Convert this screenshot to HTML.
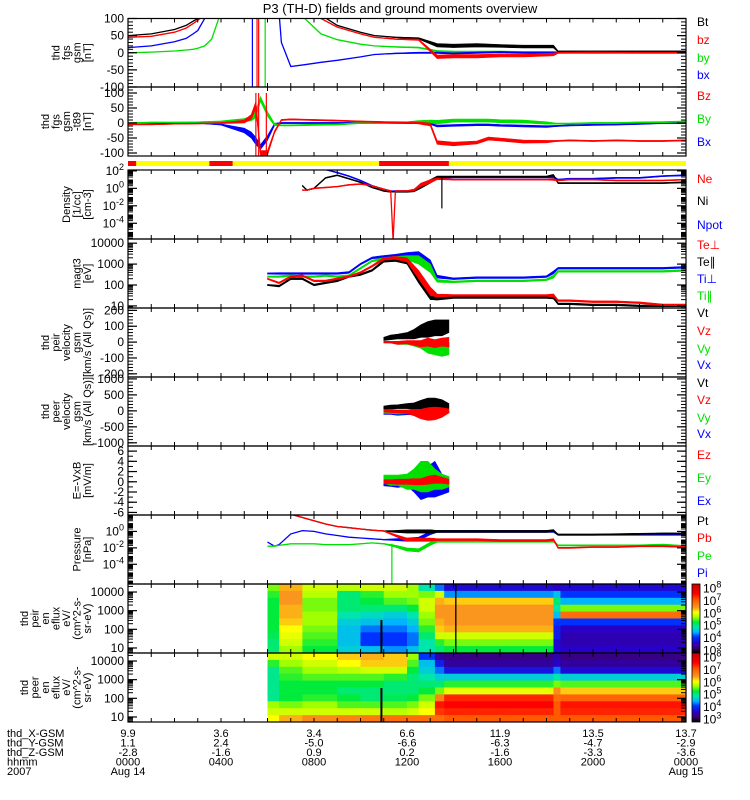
<!DOCTYPE html>
<html><head><meta charset="utf-8"><style>
html,body{margin:0;padding:0;background:#fff;}
svg{display:block;font-family:"Liberation Sans",sans-serif;}
</style></head><body>
<svg id="chart" width="750" height="800" viewBox="0 0 750 800"></svg>
<script>
// ---------- DATA ----------
const hourTicks = [0,4,8,12,16,20,24];
const hhmmLabels = ["0000","0400","0800","1200","1600","2000","0000"];
const xGsm = ["9.9","3.6","3.4","6.6","11.9","13.5","13.7"];
const yGsm = ["1.1","2.4","-5.0","-6.6","-6.3","-4.7","-2.9"];
const zGsm = ["-2.8","-1.6","0.9","0.2","-1.6","-3.3","-3.6"];

// Panel 1: fgs gsm
const t1 = [0,1,2,2.5,2.8,3.0,3.3,3.6,3.9,4.5,5.0,6.0,6.4,6.6,7.0,7.6,8.3,9,10,10.6,11.5,12.5,13.3,14,15,16,17,18.3,18.5,20,22,24];
const fgsBt = [50,55,68,80,92,100,120,150,180,250,300,300,260,220,180,140,110,80,60,50,45,42,22,20,22,20,18,18,4,4,4,4];
const fgsBz = [45,48,60,72,85,95,110,140,170,240,290,290,250,210,170,130,100,75,55,45,40,38,-12,-10,-10,-8,-8,-5,0,1,0,0];
const fgsBy = [0,2,5,8,10,13,20,40,100,200,300,300,300,250,200,100,55,38,25,20,17,15,5,3,3,3,2,2,2,2,2,2];
const fgsBx = [15,20,32,42,55,65,100,150,200,300,300,300,200,30,-40,-35,-28,-22,-12,-5,-2,0,0,-2,0,2,0,0,0,0,0,0];
const fgsAmpBt = [0,0,0,0,0,0,0,0,0,0,0,0,0,0,0,0,0,0,0,0,1,2,5,5,5,4,4,4,1.5,1.5,1.5,1.5];
const fgsAmpBz = [0,0,0,0,0,0,0,0,0,0,0,0,0,0,0,0,0,0,0,0,1,2,5,5,5,4,4,4,1.5,1.5,1.5,1.5];
const fgsAmpBy = [0,0,0,0,0,0,0,0,0,0,0,0,0,0,0,0,0,0,0,0,1,1.5,2,2,2,2,2,2,1.5,1.5,1.5,1.5];
const fgsAmpBx = [0,0,0,0,0,0,0,0,0,0,0,0,0,0,0,0,0,0,0,0,1,1.5,2,2,2,2,2,2,1.5,1.5,1.5,1.5];

// Panel 2: fgs gsm - t89
const t2 = [0,1,2,3,4,4.5,5,5.3,5.5,5.7,6,6.3,6.6,7,8,9,10,11,12,12.5,13,13.3,14,15,15.5,16,17,18,18.4,19,20,21,22,23,24];
const t89Bz = [-5,-5,-3,-2,0,2,5,20,60,-100,-100,-30,10,12,10,8,5,3,2,0,-5,-65,-70,-65,-52,-55,-62,-62,-60,-58,-60,-58,-60,-60,-58];
const t89By = [0,2,2,3,5,8,10,15,30,80,30,-5,-8,-8,-6,-5,0,0,2,5,5,3,8,8,8,6,5,0,-2,-2,0,0,2,3,5];
const t89Bx = [0,0,0,0,-5,-15,-25,-40,-60,-80,-50,-5,0,0,0,0,0,0,0,0,-2,-10,-8,-6,-6,-8,-10,-12,-10,-8,-6,-5,-3,0,0];
const t89AmpBz = [1,1,1,1,2,3,5,8,12,8,8,4,2,2,2,2,2,2,2,3,5,6,6,5,5,5,5,4,2,2,2,2,2,2,2];
const t89AmpBy = [1,1,1,1,2,3,5,8,12,8,8,4,2,2,2,2,2,2,2,3,5,6,5,5,5,5,5,4,2,2,2,2,2,2,2];
const t89AmpBx = [1,1,1,1,2,5,8,10,12,8,8,4,2,2,2,2,2,2,2,2,3,3,3,3,3,3,3,3,2,2,2,2,2,2,2];

// Panel 3: density (log10 1/cc)
const t3 = [7.5,7.7,8,8.5,9,9.5,10,10.5,11,11.3,11.4,11.5,12,12.3,12.6,13,13.3,14,15,16,17,18,18.3,18.5,19,20,21,22,23,24];
const denNi = [0.3,-0.2,0,1.2,1.5,1.1,0.7,0.1,-0.3,-0.4,-0.4,-0.4,-0.4,-0.3,0.2,0.8,1.3,1.35,1.35,1.35,1.35,1.35,1.5,0.6,0.6,0.6,0.6,0.6,0.6,0.7];
const denNe = [-0.2,-0.2,0,0.1,0.2,0.4,0.5,0.3,-0.1,-0.3,-6,-0.3,-0.3,-0.2,0.4,0.8,1.1,1.0,1.0,1.0,1.0,1.0,1.0,0.9,1.0,1.0,0.9,0.9,0.9,1.0];
const denNpot = [null,null,2.2,2.15,1.8,1.4,0.9,0.3,-0.1,-0.3,-0.3,-0.3,-0.3,-0.2,0.3,0.8,1.25,1.25,1.25,1.25,1.25,1.25,1.3,1.0,1.1,1.1,1.2,1.2,1.4,1.5];
const denAmp = [0.05,0.05,0.05,0.05,0.05,0.05,0.05,0.05,0.05,0.05,0,0.05,0.05,0.1,0.2,0.2,0.1,0.06,0.06,0.06,0.06,0.06,0.1,0.06,0.06,0.06,0.06,0.06,0.06,0.06];

// Panel 4: temperature (log10 eV)
const t4 = [6,6.5,7,7.5,8,8.5,9,9.5,10,10.5,11,11.5,12,12.5,13,13.3,14,15,16,17,18,18.3,18.5,19,20,21,22,23,24];
const tempTiPerp = [2.55,2.55,2.55,2.55,2.55,2.55,2.55,2.6,3.0,3.3,3.35,3.4,3.45,3.4,3.0,2.4,2.3,2.35,2.35,2.35,2.4,2.6,2.8,2.8,2.8,2.8,2.8,2.8,2.85];
const tempTiPar = [2.4,2.4,2.45,2.4,2.4,2.45,2.4,2.45,2.8,3.15,3.25,3.3,3.3,3.2,2.8,2.2,2.15,2.2,2.2,2.2,2.25,2.4,2.65,2.65,2.65,2.65,2.65,2.65,2.7];
const tempTePerp = [2.3,2.1,2.4,2.45,2.2,2.2,2.3,2.4,2.6,2.9,3.25,3.3,3.2,2.5,1.7,1.5,1.5,1.5,1.5,1.5,1.5,1.5,1.25,1.25,1.2,1.2,1.15,1.05,1.05];
const tempTePar = [2.0,1.95,2.3,2.3,2.0,2.1,2.2,2.4,2.5,2.7,3.15,3.2,3.1,2.3,1.5,1.35,1.4,1.4,1.4,1.4,1.4,1.4,1.1,1.1,1.05,1.05,1.0,1.0,1.0];
const tempAmp = [0.03,0.04,0.04,0.04,0.04,0.04,0.04,0.04,0.04,0.04,0.06,0.07,0.1,0.2,0.2,0.07,0.04,0.04,0.04,0.04,0.04,0.07,0.04,0.04,0.04,0.04,0.04,0.04,0.04];

// Panels 5-7: velocities and E field
const t5 = [11,11.3,11.6,12,12.3,12.6,12.9,13.2,13.5,13.8];
const peirVt = [20,30,35,40,50,70,80,90,90,100];
const peirVtAmp = [10,15,15,20,30,40,50,50,50,40];
const peirVz = [0,0,-5,0,-5,-10,0,-10,0,0];
const peirVzAmp = [5,5,10,10,15,20,25,25,25,30];
const peirVy = [0,0,-5,-5,-10,-20,-40,-50,-60,-50];
const peirVyAmp = [5,5,10,10,15,20,30,30,30,30];
const peirVx = [0,0,0,0,0,-5,-10,-15,-20,-20];
const peirVxAmp = [3,5,5,5,5,10,15,15,15,15];
const peerVt = [100,120,130,150,150,180,200,200,200,150];
const peerVtAmp = [50,60,60,80,100,150,200,200,150,80];
const peerVz = [0,0,-20,-30,-50,-100,-100,-80,-50,0];
const peerVzAmp = [40,50,50,60,100,150,200,200,150,60];
const peerVy = [-50,-50,-60,-50,-50,-50,-50,-50,-50,-30];
const peerVyAmp = [30,30,40,40,40,50,50,50,50,40];
const peerVx = [-80,-80,-100,-80,-80,-80,-100,-80,-60,-40];
const peerVxAmp = [30,30,40,40,40,60,60,60,40,30];
const efEz = [0,0,0,0,0,0,0.3,0.5,0.3,0];
const efEzAmp = [0.4,0.4,0.5,0.5,0.6,0.6,0.8,0.8,0.6,0.5];
const efEy = [0.5,0.3,0.3,0,0.5,1,1,0.5,0,0];
const efEyAmp = [0.8,1,1,1.5,2,3,3,2,1.5,1];
const efEx = [-0.3,-0.3,-0.5,0,-0.5,-1,0,0.5,-0.5,-0.5];
const efExAmp = [0.5,0.6,0.6,0.8,1.5,2.5,3,3.5,2,1.5];

// Panel 8: pressure (log10 nPa)
const t8 = [6,6.3,6.5,7,7.5,8,8.5,9,9.5,10,10.5,11,11.5,12,12.5,13,13.3,14,15,16,17,18,18.3,18.5,19,20,21,22,23,24];
const presPt = [null,null,null,2.1,1.7,1.3,0.9,0.6,0.45,0.3,0.15,0.05,0.0,0.0,0.0,0.0,0.0,0.0,0.0,0.0,0.0,0.0,0.1,-0.4,-0.4,-0.4,-0.35,-0.3,-0.25,-0.25];
const presPb = [null,null,null,2.1,1.7,1.3,0.9,0.6,0.45,0.3,0.15,0.05,-0.5,-1.0,-1.0,-1.0,-1.0,-1.0,-1.0,-1.1,-1.1,-1.1,-1.0,-2.0,-2.0,-1.9,-1.9,-1.8,-1.8,-1.9];
const presPe = [-1.8,-1.8,-1.7,-1.5,-1.5,-1.5,-1.6,-1.6,-1.6,-1.5,-1.4,-1.5,-1.8,-2.2,-2.3,-1.5,-1.2,-1.2,-1.2,-1.2,-1.2,-1.2,-1.2,-1.7,-1.7,-1.7,-1.7,-1.7,-1.6,-1.8];
const presPi = [-1.3,-1.8,-1.6,-0.3,0.1,0.0,-0.3,-0.5,-0.7,-0.8,-0.9,-1.0,-1.0,-1.0,-0.9,-0.2,0.0,0.0,0.0,0.0,0.0,0.0,0.0,-0.4,-0.4,-0.4,-0.4,-0.4,-0.4,-0.4];
const presAmp = [0,0,0,0,0,0,0,0,0,0,0,0.04,0.12,0.2,0.2,0.2,0.12,0.12,0.12,0.12,0.12,0.12,0.12,0.07,0.07,0.07,0.07,0.07,0.07,0.07];

// Spikes: panel, time, value-from, value-to, color
const spikePanel = [0,0,0,0,1,1,1,2,7];
const spikeTime = [5.35,5.55,5.62,5.9,5.5,5.62,5.95,13.5,11.35];
const spikeFrom = [-300,-300,-300,-300,100,100,100,1.3,-1.5];
const spikeTo = [300,300,300,300,-130,-130,-130,-2.3,-7];
const spikeColor = ["#0000ff","#ff0000","#ff0000","#00e000","#ff0000","#ff0000","#ff0000","#000","#00e000"];

// Mode bar segments
const barStart = [0,0,3.5,10.8];
const barEnd = [24,0.35,4.5,13.8];
const barColor = ["#ffff00","#ff0000","#ff0000","#ff0000"];

// Spectrograms (log10 eflux), time bins x 10 energy rows (high->low)
const specBins = [6,6.5,7.5,9,10,11,12,12.5,13.2,13.6,18.3,18.6,24];
const ionFlux = [
 [5.5,5.3,5.2,5.2,5.2,5.2,5.2,5.1,5.0,5.0],
 [6.3,6.4,6.4,6.3,6.3,6.2,6.0,5.9,5.8,5.6],
 [5.8,5.7,5.5,5.5,5.6,5.6,5.5,5.4,5.3,5.2],
 [5.7,5.0,5.0,5.0,4.8,4.6,4.5,4.5,4.5,4.6],
 [5.8,5.3,5.2,5.0,4.7,4.5,4.2,4.0,4.0,4.5],
 [5.8,5.6,5.4,5.0,4.6,4.4,4.2,4.0,4.0,4.3],
 [5.6,5.6,5.5,5.2,4.8,4.6,4.4,4.2,4.2,4.5],
 [4.8,5.5,5.8,5.8,5.6,5.5,5.3,5.0,4.8,4.8],
 [4.2,5.8,6.3,6.4,6.4,6.3,6.2,5.8,5.3,5.0],
 [3.6,4.3,6.2,6.4,6.4,6.4,6.3,5.8,5.5,5.2],
 [3.5,4.5,5.0,4.8,4.5,4.0,3.8,3.8,3.6,3.6],
 [3.6,4.0,4.4,5.5,6.8,4.0,3.5,3.4,3.4,3.5]
];
const eleFlux = [
 [5.8,5.3,4.9,4.9,4.9,4.9,4.9,5.6,5.8,6.0],
 [5.8,5.6,5.4,5.3,5.2,5.2,5.2,5.5,5.8,6.3],
 [6.0,5.8,5.6,5.4,5.2,5.2,5.3,5.6,5.8,6.5],
 [6.2,6.0,5.7,5.4,5.2,5.0,5.2,5.4,5.8,6.6],
 [6.3,6.2,5.8,5.4,5.2,5.0,5.0,5.4,5.8,6.7],
 [6.2,6.2,5.8,5.3,5.0,5.0,5.1,5.4,5.7,6.8],
 [5.6,5.4,5.2,5.0,5.0,5.0,5.2,5.5,5.8,6.8],
 [4.0,4.5,4.6,4.8,5.0,5.2,5.5,5.8,6.0,6.8],
 [3.3,3.8,4.2,4.6,5.0,5.5,6.6,7.4,7.2,6.8],
 [3.2,3.3,3.7,4.6,5.3,5.9,7.3,7.5,7.3,7.0],
 [3.4,3.5,4.2,4.8,5.5,6.5,6.8,7.0,7.0,7.0],
 [3.2,3.3,3.6,4.6,5.4,6.2,6.9,7.4,7.3,7.0]
];
const specLineTime = [10.9,14.1];

// ---------- RENDER ----------
const NS = "http://www.w3.org/2000/svg";
const svg = document.getElementById("chart");
const X0 = 128, X1 = 686;
function xOf(h){ return X0 + h*(X1-X0)/24; }
function mk(tag, attrs, parent){
  const e = document.createElementNS(NS, tag);
  for (const k in attrs) e.setAttribute(k, attrs[k]);
  (parent||svg).appendChild(e);
  return e;
}
const panels = [
 {top:18.5,bot:87,min:-100,max:100,log:false},
 {top:87,bot:156,min:-110,max:120,log:false},
 {top:170,bot:239,min:-5.8,max:2.1,log:true},
 {top:239,bot:308,min:0.9,max:4.2,log:true},
 {top:308,bot:377,min:-220,max:215,log:false},
 {top:377,bot:446,min:-1100,max:1060,log:false},
 {top:446,bot:515,min:-6.5,max:7.0,log:false},
 {top:515,bot:584,min:-6.4,max:2.0,log:true},
 {top:584,bot:653,min:0.73,max:4.43,log:true},
 {top:653,bot:722,min:0.73,max:4.43,log:true}
];
function yOf(p, v){ return p.bot - (v-p.min)/(p.max-p.min)*(p.bot-p.top); }

const title = mk("text",{x:400,y:13,"text-anchor":"middle","font-size":"13"});
title.textContent = "P3 (TH-D) fields and ground moments overview";



const defs = mk("defs",{});
panels.forEach((p,i)=>{
  const cp = mk("clipPath",{id:"clip"+i}, defs);
  mk("rect",{x:X0,y:p.top,width:X1-X0,height:p.bot-p.top}, cp);
});

const cmStops = [[2.7,[0,0,0]],[3.1,[60,0,110]],[3.5,[40,0,200]],[4.0,[0,50,255]],[4.4,[0,180,255]],[4.8,[0,230,170]],[5.2,[0,235,60]],[5.6,[160,255,0]],[6.0,[255,255,0]],[6.4,[250,150,30]],[7.0,[255,90,0]],[7.5,[255,0,0]],[8.3,[200,0,0]]];
function cmap(v){
  if (v<=cmStops[0][0]) return "rgb("+cmStops[0][1]+")";
  for (let i=1;i<cmStops.length;i++){
    if (v<=cmStops[i][0]){
      const a=cmStops[i-1], b=cmStops[i], f=(v-a[0])/(b[0]-a[0]);
      const c=a[1].map((q,k)=>Math.round(q+(b[1][k]-q)*f));
      return "rgb("+c.join(",")+")";
    }
  }
  return "rgb("+cmStops[cmStops.length-1][1]+")";
}
function drawSpec(pi, flux, name){
  const p = panels[pi];
  const g = mk("g",{"clip-path":"url(#clip"+pi+")"});
  
  
  const nr = flux[0].length, rh = (p.bot-p.top)/nr;
  flux.forEach((col,i)=>{
    const xa = xOf(specBins[i]), xb = xOf(specBins[i+1]);
    col.forEach((v,r)=>{
      const c = mk("rect",{x:xa.toFixed(2),y:(p.top+r*rh).toFixed(2),width:(xb-xa+0.4).toFixed(2),height:(rh+0.4).toFixed(2),fill:cmap(v)},g);
      
      
    });
  });
}
drawSpec(8, ionFlux, "ion-spectrogram");
drawSpec(9, eleFlux, "electron-spectrogram");
mk("line",{x1:xOf(specLineTime[0]),x2:xOf(specLineTime[0]),y1:620,y2:653,stroke:"#000","stroke-width":2});
mk("line",{x1:xOf(specLineTime[1]),x2:xOf(specLineTime[1]),y1:584,y2:653,stroke:"#000","stroke-width":1.3});
mk("line",{x1:xOf(specLineTime[0]),x2:xOf(specLineTime[0]),y1:688,y2:722,stroke:"#000","stroke-width":2});

function drawSeries(pi, ts, vals, amps, color, name){
  const p = panels[pi];
  const g = mk("g",{"clip-path":"url(#clip"+pi+")"});
  
  
  if (amps){
    let seg=[];
    const flush=()=>{
      if (seg.length>1){
        const up = seg.map(i=>xOf(ts[i]).toFixed(1)+","+yOf(p,vals[i]+amps[i]).toFixed(1));
        const dn = seg.slice().reverse().map(i=>xOf(ts[i]).toFixed(1)+","+yOf(p,vals[i]-amps[i]).toFixed(1));
        mk("polygon",{points:up.concat(dn).join(" "),fill:color,stroke:color,"stroke-width":0.6},g);
      }
      seg=[];
    };
    ts.forEach((t,i)=>{ if (vals[i]===null) flush(); else seg.push(i); });
    flush();
  }
  let d="", pen=false;
  ts.forEach((t,i)=>{
    if (vals[i]===null){pen=false;return;}
    d += (pen?"L":"M")+xOf(t).toFixed(1)+","+yOf(p,vals[i]).toFixed(1);
    pen=true;
  });
  mk("path",{d:d,fill:"none",stroke:color,"stroke-width":1.3},g);
}
const BLK="#000", RED="#ff0000", GRN="#00e000", BLU="#0000ff";
drawSeries(0,t1,fgsBy,fgsAmpBy,GRN,"series-by");
drawSeries(0,t1,fgsBx,fgsAmpBx,BLU,"series-bx");
drawSeries(0,t1,fgsBt,fgsAmpBt,BLK,"series-bt");
drawSeries(0,t1,fgsBz,fgsAmpBz,RED,"series-bz");
drawSeries(1,t2,t89Bx,t89AmpBx,BLU,"series-t89-bx");
drawSeries(1,t2,t89By,t89AmpBy,GRN,"series-t89-by");
drawSeries(1,t2,t89Bz,t89AmpBz,RED,"series-t89-bz");
drawSeries(2,t3,denNpot,denAmp,BLU,"series-npot");
drawSeries(2,t3,denNi,denAmp,BLK,"series-ni");
drawSeries(2,t3,denNe,denAmp,RED,"series-ne");
drawSeries(3,t4,tempTiPerp,tempAmp,BLU,"series-ti-perp");
drawSeries(3,t4,tempTiPar,tempAmp,GRN,"series-ti-par");
drawSeries(3,t4,tempTePar,tempAmp,BLK,"series-te-par");
drawSeries(3,t4,tempTePerp,tempAmp,RED,"series-te-perp");
drawSeries(4,t5,peirVx,peirVxAmp,BLU,"series-peir-vx");
drawSeries(4,t5,peirVy,peirVyAmp,GRN,"series-peir-vy");
drawSeries(4,t5,peirVt,peirVtAmp,BLK,"series-peir-vt");
drawSeries(4,t5,peirVz,peirVzAmp,RED,"series-peir-vz");
drawSeries(5,t5,peerVx,peerVxAmp,BLU,"series-peer-vx");
drawSeries(5,t5,peerVy,peerVyAmp,GRN,"series-peer-vy");
drawSeries(5,t5,peerVt,peerVtAmp,BLK,"series-peer-vt");
drawSeries(5,t5,peerVz,peerVzAmp,RED,"series-peer-vz");
drawSeries(6,t5,efEx,efExAmp,BLU,"series-ex");
drawSeries(6,t5,efEy,efEyAmp,GRN,"series-ey");
drawSeries(6,t5,efEz,efEzAmp,RED,"series-ez");
drawSeries(7,t8,presPi,presAmp,BLU,"series-pi");
drawSeries(7,t8,presPe,presAmp,GRN,"series-pe");
drawSeries(7,t8,presPt,presAmp,BLK,"series-pt");
drawSeries(7,t8,presPb,presAmp,RED,"series-pb");

spikeTime.forEach((t,i)=>{
  const p = panels[spikePanel[i]];
  const ln = mk("line",{x1:xOf(t),x2:xOf(t),y1:yOf(p,spikeFrom[i]),y2:yOf(p,spikeTo[i]),stroke:spikeColor[i],"stroke-width":1.2,"clip-path":"url(#clip"+spikePanel[i]+")"});
  
  
});

barStart.forEach((s,i)=>{
  const r = mk("rect",{x:xOf(s),y:161,width:xOf(barEnd[i])-xOf(s),height:5,fill:barColor[i]});
  
  
});

const tickSpecs = [
 {maj:[[100,"100"],[50,"50"],[0,"0"],[-50,"-50"],[-100,"-100"]],minor:10},
 {maj:[[100,"100"],[50,"50"],[0,"0"],[-50,"-50"],[-100,"-100"]],minor:10},
 {maj:[[2,"10|2"],[0,"10|0"],[-2,"10|-2"],[-4,"10|-4"]],logMinor:true},
 {maj:[[4,"10000"],[3,"1000"],[2,"100"],[1,"10"]],logMinor:true},
 {maj:[[200,"200"],[100,"100"],[0,"0"],[-100,"-100"],[-200,"-200"]],minor:20},
 {maj:[[1000,"1000"],[500,"500"],[0,"0"],[-500,"-500"],[-1000,"-1000"]],minor:100},
 {maj:[[6,"6"],[4,"4"],[2,"2"],[0,"0"],[-2,"-2"],[-4,"-4"],[-6,"-6"]],minor:1},
 {maj:[[0,"10|0"],[-2,"10|-2"],[-4,"10|-4"]],logMinor:true},
 {maj:[[4,"10000"],[3,"1000"],[2,"100"],[1,"10"]],logMinor:true},
 {maj:[[4,"10000"],[3,"1000"],[2,"100"],[1,"10"]],logMinor:true}
];
const axisLabels = [
 ["thd","fgs","gsm","[nT]"],
 ["thd","fgs","gsm","-t89","[nT]"],
 ["Density","[1/cc]","[cm-3]"],
 ["magt3","[eV]"],
 ["thd","peir","velocity","gsm","[km/s (All Qs)]"],
 ["thd","peer","velocity","gsm","[km/s (All Qs)]"],
 ["E=-VxB","[mV/m]"],
 ["Pressure","[nPa]"],
 ["thd","peir","en","eflux","eV/","(cm^2-s-","sr-eV)"],
 ["thd","peer","en","eflux","eV/","(cm^2-s-","sr-eV)"]
];
panels.forEach((p,i)=>{
  const g = mk("g",{});
  
  
  mk("rect",{x:X0,y:p.top,width:X1-X0,height:p.bot-p.top,fill:"none",stroke:"#000","stroke-width":1.2},g);
  for (let h=1;h<24;h++){
    mk("line",{x1:xOf(h),x2:xOf(h),y1:p.top,y2:p.top+4,stroke:"#000"},g);
    mk("line",{x1:xOf(h),x2:xOf(h),y1:p.bot,y2:p.bot-4,stroke:"#000"},g);
  }
  const ts = tickSpecs[i];
  const minors=[];
  if (ts.logMinor){
    for (let d=Math.floor(p.min); d<=p.max; d++) for (let m=2;m<10;m++){ const v=d+Math.log10(m); if (v>p.min&&v<p.max) minors.push(v); }
  } else {
    for (let v=Math.ceil(p.min/ts.minor)*ts.minor; v<=p.max; v+=ts.minor) minors.push(v);
  }
  minors.forEach(v=>{
    const y=yOf(p,v);
    mk("line",{x1:X0,x2:X0+5,y1:y,y2:y,stroke:"#000"},g);
    mk("line",{x1:X1,x2:X1-5,y1:y,y2:y,stroke:"#000"},g);
  });
  ts.maj.forEach(([v,lab])=>{
    const y=yOf(p,v);
    mk("line",{x1:X0,x2:X0+9,y1:y,y2:y,stroke:"#000","stroke-width":1.2},g);
    mk("line",{x1:X1,x2:X1-9,y1:y,y2:y,stroke:"#000","stroke-width":1.2},g);
    const t = mk("text",{x:124,y:y+4,"text-anchor":"end","font-size":"12"},g);
    if (lab.indexOf("|")>=0){
      const [b,e]=lab.split("|");
      t.textContent=b;
      const s=mk("tspan",{dy:-5,"font-size":"9"},t); s.textContent=e;
    } else t.textContent=lab;
    
    
  });
  const lines = axisLabels[i];
  const cy = (p.top+p.bot)/2;
  lines.forEach((s,k)=>{
    const xr = 91 - (lines.length-1-k)*10.5;
    const t = mk("text",{x:xr,y:cy,"text-anchor":"middle","font-size":"11",transform:"rotate(-90 "+xr+" "+cy+")"},g);
    t.textContent=s;
    
    
  });
});

const legendItems = [
 ["Bt",BLK,26],["bz",RED,44],["by",GRN,62],["bx",BLU,79],
 ["Bz",RED,100],["By",GRN,123],["Bx",BLU,146],
 ["Ne",RED,183],["Ni",BLK,205],["Npot",BLU,229],
 ["Te\u22a5",RED,249],["Te\u2225",BLK,266],["Ti\u22a5",BLU,283],["Ti\u2225",GRN,300],
 ["Vt",BLK,317],["Vz",RED,335],["Vy",GRN,353],["Vx",BLU,369],
 ["Vt",BLK,387],["Vz",RED,404],["Vy",GRN,422],["Vx",BLU,438],
 ["Ez",RED,459],["Ey",GRN,482],["Ex",BLU,505],
 ["Pt",BLK,525],["Pb",RED,542],["Pe",GRN,560],["Pi",BLU,577]
];
legendItems.forEach(([s,c,y])=>{
  const t = mk("text",{x:697,y:y,"font-size":"12",fill:c});
  t.textContent=s;
  
  
});

const cbDefs = mk("linearGradient",{id:"cbg",x1:0,y1:1,x2:0,y2:0},defs);
cmStops.forEach(([v,c])=>mk("stop",{offset:((v-2.7)/(8.3-2.7)).toFixed(3),"stop-color":"rgb("+c+")"},cbDefs));
[[584,653],[653,722]].forEach(([a,b],k)=>{
  const r = mk("rect",{x:692,y:a,width:8,height:b-a,fill:"url(#cbg)",stroke:"#000","stroke-width":0.8});
  
  
  [8,7,6,5,4,3].forEach(e=>{
    const y = b - (e-2.7)/(8.3-2.7)*(b-a);
    const t = mk("text",{x:703,y:y+5,"font-size":"12"});
    t.textContent="10";
    const s=mk("tspan",{dy:-5,"font-size":"9"},t); s.textContent=String(e);
    
    
  });
});

const rowNames = ["thd_X-GSM","thd_Y-GSM","thd_Z-GSM","hhmm","2007"];
rowNames.forEach((s,k)=>{
  const t = mk("text",{x:7,y:737+k*9.5,"font-size":"11"});
  t.textContent=s;
  
  
});
const rows=[xGsm,yGsm,zGsm,hhmmLabels];
hourTicks.forEach((h,i)=>{
  rows.forEach((r,k)=>{
    const t = mk("text",{x:xOf(h),y:737+k*9.5,"text-anchor":"middle","font-size":"11"});
    t.textContent=r[i];
    
    
  });
});
[["Aug 14",0],["Aug 15",24]].forEach(([s,h])=>{
  const t = mk("text",{x:xOf(h),y:775,"text-anchor":"middle","font-size":"11"});
  t.textContent=s;
  
  
});
</script>
</body></html>
